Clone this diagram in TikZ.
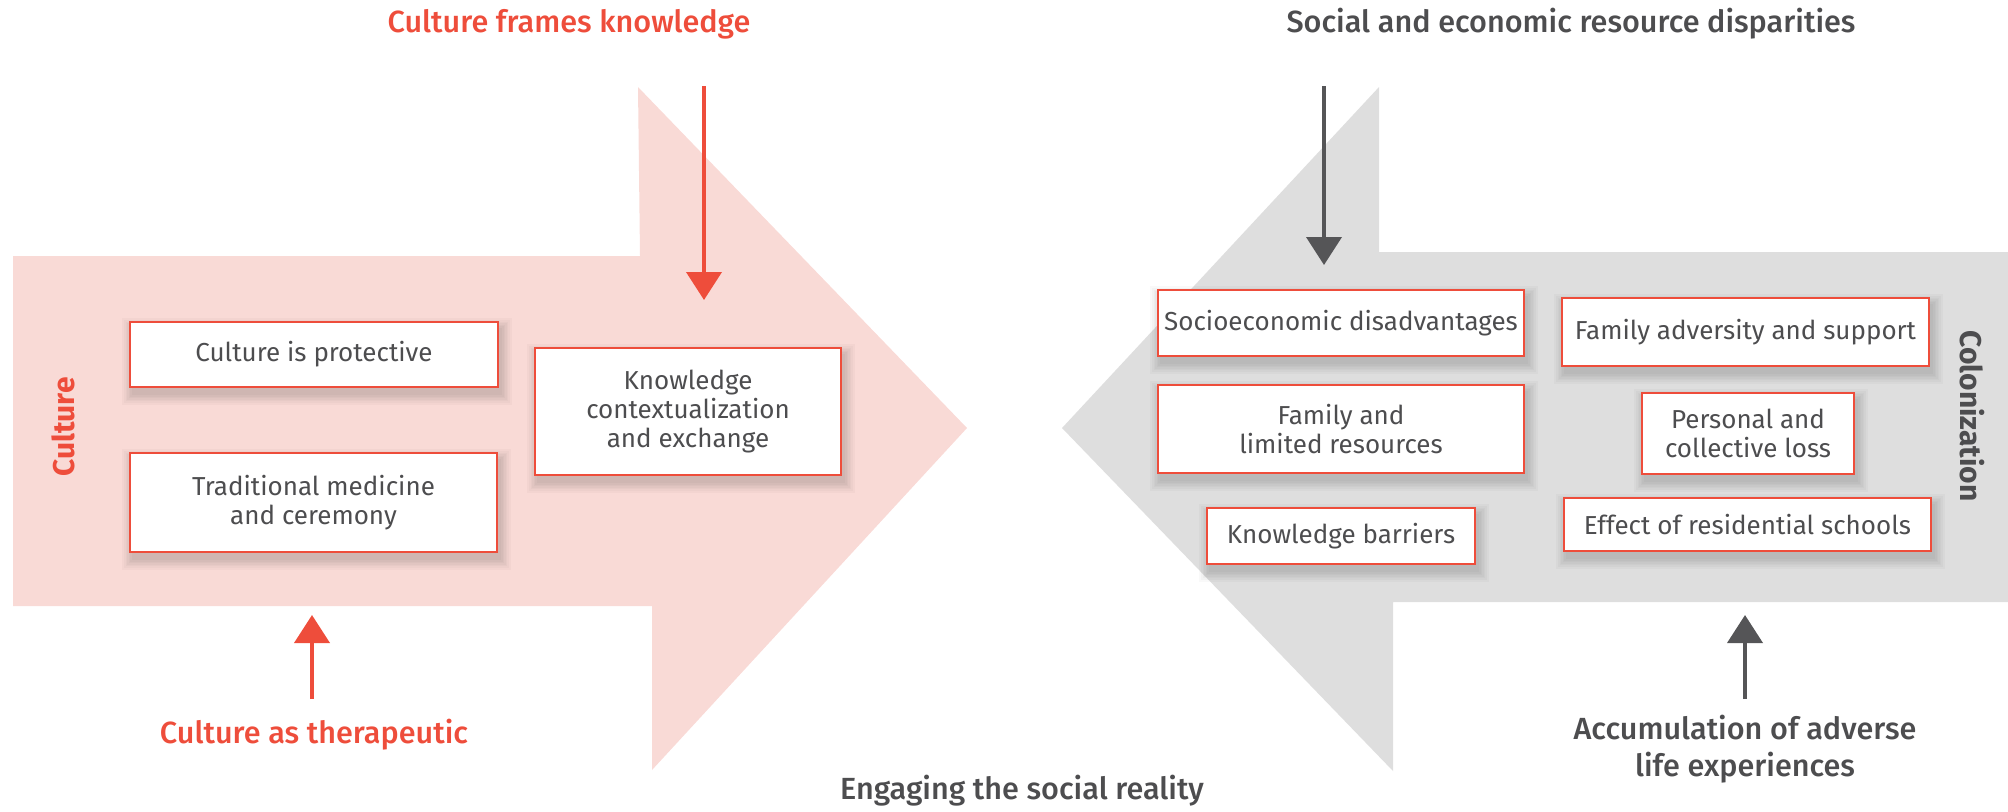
\documentclass[tikz,border=0pt]{standalone}
\usepackage{fontspec}
\setmainfont{Fira Sans}
\newfontfamily\medfont{Fira Sans Medium}
\newfontfamily\sidefont{Fira Sans}
\usetikzlibrary{arrows.meta}
\definecolor{culred}{HTML}{EE4D3B}
\definecolor{culpink}{HTML}{F9DAD6}
\definecolor{colgray}{HTML}{DEDEDE}
\definecolor{inkgray}{HTML}{4D4D4F}
\definecolor{arrowgray}{HTML}{555557}
\pgfdeclarelayer{bg}
\pgfdeclarelayer{shade}
\pgfsetlayers{bg,shade,main}
\tikzset{
  box/.style={draw=culred, line width=1pt, fill=white, text=inkgray,
    font=\fontsize{13}{14.5}\selectfont, align=center, inner sep=0pt},
  heading/.style={font=\medfont\fontsize{15.3}{18.5}\selectfont, align=center, inner sep=0pt},
  sidelabel/.style={font=\sidefont\bfseries\fontsize{15}{18}\selectfont, inner sep=0pt},
  redarrow/.style={draw=culred, line width=2pt, -{Triangle[width=17.5pt,length=14pt]}},
  grayarrow/.style={draw=arrowgray, line width=2pt, -{Triangle[width=17.5pt,length=14pt]}}
}
\begin{document}
\begin{tikzpicture}[x=0.5pt,y=-0.5pt]
\useasboundingbox (0,0) rectangle (2008,811);

% big block arrows
\begin{pgfonlayer}{bg}
\fill[culpink] (13,256) -- (640,256) -- (638,87) -- (967,428) -- (652,770)
  -- (652,606) -- (13,606) -- cycle;
\fill[colgray] (2008,252) -- (1379,252) -- (1379,87) -- (1062,428) -- (1393,771)
  -- (1393,602) -- (2008,602) -- cycle;
\end{pgfonlayer}

% side labels
\node[sidelabel, text=culred, rotate=90] (culture) at (63,427) {Culture};
\node[sidelabel, text=inkgray, rotate=-90] (colonization) at (1972,416) {Colonization};

% culture side boxes
\node[box, minimum width=184pt, minimum height=32.5pt] (protective) at (314,354.5) {Culture is protective};
\node[box, minimum width=183.5pt, minimum height=49.5pt] (medicine) at (313.5,502.5) {Traditional medicine\\and ceremony};
\node[box, minimum width=153pt, minimum height=63.5pt] (exchange) at (688,411.5) {Knowledge\\contextualization\\and exchange};

% colonization side boxes
\node[box, minimum width=183pt, minimum height=33pt] (socio) at (1341,323) {Socioeconomic disadvantages};
\node[box, minimum width=183.5pt, minimum height=34pt] (adversity) at (1745.5,332) {Family adversity and support};
\node[box, minimum width=183pt, minimum height=44pt] (limited) at (1341,429) {Family and\\limited resources};
\node[box, minimum width=106pt, minimum height=40.5pt] (loss) at (1748,433.5) {Personal and\\collective loss};
\node[box, minimum width=134pt, minimum height=28pt] (barriers) at (1341,536) {Knowledge barriers};
\node[box, minimum width=183.5pt, minimum height=26.5pt] (schools) at (1747.5,524.5) {Effect of residential schools};

% soft drop shadows under the boxes
\begin{pgfonlayer}{shade}
\foreach \b in {protective,medicine,exchange,socio,adversity,limited,loss,barriers,schools}
  \foreach \r in {0,1,...,6}
    \fill[black, opacity=0.022]
      ([xshift=1.5pt-\r*0.8pt, yshift=-3.5pt-\r*0.8pt]\b.south west)
      rectangle ([xshift=1.5pt+\r*0.8pt, yshift=-3.5pt+\r*0.8pt]\b.north east);
\end{pgfonlayer}

% headings
\node[heading, text=culred] (frames) at (569,24) {Culture frames knowledge};
\node[heading, text=inkgray] (disparities) at (1571,24) {Social and economic resource disparities};
\node[heading, text=culred] (therapeutic) at (314,735) {Culture as therapeutic};
\node[heading, text=inkgray] (adverse) at (1745,749) {Accumulation of adverse\\life experiences};
\node[heading, text=inkgray] (reality) at (1022,791) {Engaging the social reality};

% influence arrows
\coordinate (framesfrom) at (704,86);
\coordinate (framesto) at (704,300);
\coordinate (therapfrom) at (312,699);
\coordinate (therapto) at (312,615);
\coordinate (dispfrom) at (1324,86);
\coordinate (dispto) at (1324,265);
\coordinate (adversefrom) at (1745,699);
\coordinate (adverseto) at (1745,615);
\draw[redarrow] (framesfrom) -- (framesto);
\draw[redarrow] (therapfrom) -- (therapto);
\draw[grayarrow] (dispfrom) -- (dispto);
\draw[grayarrow] (adversefrom) -- (adverseto);
\end{tikzpicture}
\end{document}
